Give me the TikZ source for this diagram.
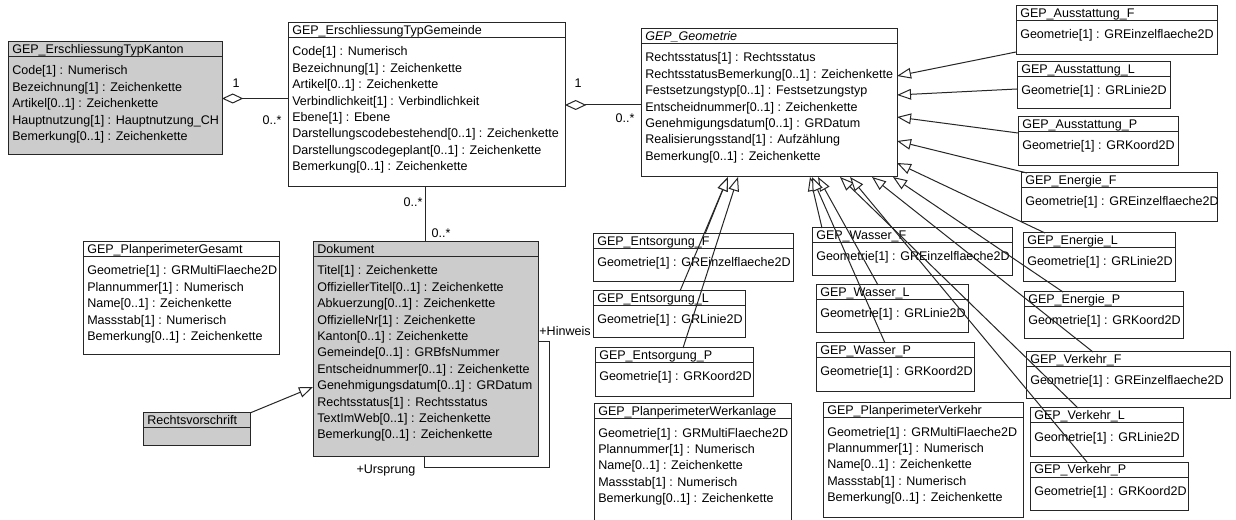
\documentclass[tikz,border=0pt]{standalone}
\usepackage{fontspec}
\setmainfont{Liberation Sans}
\usetikzlibrary{arrows.meta}

% class box: [fill]{name}{x,y}{width}{height}{title}{attributes}
\newcommand{\umlclass}[7][white]{%
  \node[classbox, fill=#1, minimum width=#4*0.75pt, minimum height=#5*0.75pt] (#2) at (#3) {};
  \draw[classline] ([shift={(0,15)}]#2.north west) -- ([shift={(0,15)}]#2.north east);
  \node[classtext] at ([shift={(4,12)}]#2.north west) {#6};
  \foreach \a [count=\i] in {#7}
    \node[classtext] at ([shift={(4,{16.4*\i+16.6})}]#2.north west) {\a};
}

\begin{document}
\begin{tikzpicture}[x=0.75pt, y=-0.75pt,
    classbox/.style={draw=black!85, line width=0.75pt, anchor=north west, inner sep=0pt, outer sep=0pt},
    classline/.style={draw=black!85, line width=0.75pt},
    classtext/.style={anchor=base west, inner sep=0pt, font=\fontsize{9.4}{11}\selectfont},
    conn/.style={draw=black!85, line width=0.75pt},
    gen/.style={conn, -{Triangle[fill=white, length=10.5pt, width=8pt]}},
    aggr/.style={conn, {Diamond[fill=white, length=16pt, width=7.5pt]}-},
    mult/.style={inner sep=0pt, font=\fontsize{9.4}{11}\selectfont}
  ]
  \fill[white] (0,0) rectangle (1236,520);
  \useasboundingbox (0,0) rectangle (1236,520);

  % Erschliessung types
  \umlclass[gray!40]{kanton}{8,42}{214}{113}{GEP\_ErschliessungTypKanton}{
    Code[1] : Numerisch, Bezeichnung[1] : Zeichenkette, Artikel[0..1] : Zeichenkette,
    Hauptnutzung[1] : Hauptnutzung\_CH, Bemerkung[0..1] : Zeichenkette}
  \umlclass{gemeinde}{288,23}{277}{164}{GEP\_ErschliessungTypGemeinde}{
    Code[1] : Numerisch, Bezeichnung[1] : Zeichenkette, Artikel[0..1] : Zeichenkette,
    Verbindlichkeit[1] : Verbindlichkeit, Ebene[1] : Ebene,
    Darstellungscodebestehend[0..1] : Zeichenkette,
    Darstellungscodegeplant[0..1] : Zeichenkette, Bemerkung[0..1] : Zeichenkette}

  % abstract geometry class
  \umlclass{geometrie}{641,29}{256}{148}{\itshape GEP\_Geometrie}{
    Rechtsstatus[1] : Rechtsstatus, RechtsstatusBemerkung[0..1] : Zeichenkette,
    Festsetzungstyp[0..1] : Festsetzungstyp, Entscheidnummer[0..1] : Zeichenkette,
    Genehmigungsdatum[0..1] : GRDatum, Realisierungsstand[1] : Aufzählung,
    Bemerkung[0..1] : Zeichenkette}

  % documents
  \umlclass{ppGesamt}{83,242}{196}{113}{GEP\_PlanperimeterGesamt}{
    Geometrie[1] : GRMultiFlaeche2D, Plannummer[1] : Numerisch, Name[0..1] : Zeichenkette,
    Massstab[1] : Numerisch, Bemerkung[0..1] : Zeichenkette}
  \umlclass[gray!40]{dokument}{313,242}{225}{214}{Dokument}{
    Titel[1] : Zeichenkette, OffiziellerTitel[0..1] : Zeichenkette,
    Abkuerzung[0..1] : Zeichenkette, OffizielleNr[1] : Zeichenkette,
    Kanton[0..1] : Zeichenkette, Gemeinde[0..1] : GRBfsNummer,
    Entscheidnummer[0..1] : Zeichenkette, Genehmigungsdatum[0..1] : GRDatum,
    Rechtsstatus[1] : Rechtsstatus, TextImWeb[0..1] : Zeichenkette,
    Bemerkung[0..1] : Zeichenkette}
  \umlclass[gray!40]{rechts}{143,413}{107}{32}{Rechtsvorschrift}{}

  % Ausstattung, Energie, Verkehr
  \umlclass{ausstF}{1016,6}{201}{49}{GEP\_Ausstattung\_F}{Geometrie[1] : GREinzelflaeche2D}
  \umlclass{ausstL}{1017,62}{153}{47}{GEP\_Ausstattung\_L}{Geometrie[1] : GRLinie2D}
  \umlclass{ausstP}{1018,117}{160}{49}{GEP\_Ausstattung\_P}{Geometrie[1] : GRKoord2D}
  \umlclass{energF}{1021,173}{196}{49}{GEP\_Energie\_F}{Geometrie[1] : GREinzelflaeche2D}
  \umlclass{energL}{1023,233}{152}{49}{GEP\_Energie\_L}{Geometrie[1] : GRLinie2D}
  \umlclass{energP}{1024,292}{159}{47}{GEP\_Energie\_P}{Geometrie[1] : GRKoord2D}
  \umlclass{verkF}{1026,352}{204}{47}{GEP\_Verkehr\_F}{Geometrie[1] : GREinzelflaeche2D}
  \umlclass{verkL}{1030,408}{153}{48}{GEP\_Verkehr\_L}{Geometrie[1] : GRLinie2D}
  \umlclass{verkP}{1030,462}{158}{48}{GEP\_Verkehr\_P}{Geometrie[1] : GRKoord2D}

  % Entsorgung, Wasser
  \umlclass{entsF}{593,234}{200}{48}{GEP\_Entsorgung\_F}{Geometrie[1] : GREinzelflaeche2D}
  \umlclass{entsL}{593,291}{152}{47}{GEP\_Entsorgung\_L}{Geometrie[1] : GRLinie2D}
  \umlclass{entsP}{595,348}{158}{49}{GEP\_Entsorgung\_P}{Geometrie[1] : GRKoord2D}
  \umlclass{wasF}{812,228}{200}{48}{GEP\_Wasser\_F}{Geometrie[1] : GREinzelflaeche2D}
  \umlclass{wasL}{816,285}{152}{48}{GEP\_Wasser\_L}{Geometrie[1] : GRLinie2D}
  \umlclass{wasP}{816,343}{158}{49}{GEP\_Wasser\_P}{Geometrie[1] : GRKoord2D}

  % Planperimeter
  \umlclass{ppWerk}{594,404}{197}{130}{GEP\_PlanperimeterWerkanlage}{
    Geometrie[1] : GRMultiFlaeche2D, Plannummer[1] : Numerisch, Name[0..1] : Zeichenkette,
    Massstab[1] : Numerisch, Bemerkung[0..1] : Zeichenkette}
  \umlclass{ppVerk}{823,403}{200}{114}{GEP\_PlanperimeterVerkehr}{
    Geometrie[1] : GRMultiFlaeche2D, Plannummer[1] : Numerisch, Name[0..1] : Zeichenkette,
    Massstab[1] : Numerisch, Bemerkung[0..1] : Zeichenkette}

  % aggregations
  \draw[aggr] (kanton.east) -- (kanton.east -| gemeinde.west);
  \node[mult] (mK1) at (236,83) {1};
  \node[mult] (mK2) at (272,120) {0..*};
  \draw[aggr] (gemeinde.east) -- (gemeinde.east -| geometrie.west);
  \node[mult] (mG1) at (578,83) {1};
  \node[mult] (mG2) at (625,118) {0..*};

  % Gemeinde -- Dokument
  \draw[conn] (gemeinde.south -| dokument.north) -- (dokument.north);
  \node[mult] (mD1) at (413,202) {0..*};
  \node[mult] (mD2) at (441,233) {0..*};

  % Dokument self reference
  \coordinate (hinweis) at (549,342);
  \coordinate (ursprung) at (424,467);
  \draw[conn] (dokument.east |- hinweis) -- (hinweis) |- (ursprung) -- (ursprung |- dokument.south);
  \node[mult] (rH) at (565,331) {+Hinweis};
  \node[mult] (rU) at (386,470) {+Ursprung};

  % generalizations
  \draw[gen] (rechts.north east) -- ([shift={(0,38)}]dokument.west);
  \foreach \sub/\sx/\sy/\tx/\ty in {
      ausstF/0/46/256/47, ausstL/0/27/256/66, ausstP/0/16/256/88,
      energF/6/0/256/112, energL/22/0/256/134, energP/39/0/252/148,
      verkF/67/0/231/148, verkL/48/0/199/148, verkP/57/0/209/148,
      wasF/10/0/169/148, wasL/62/0/177/148, wasP/69/0/171/148,
      entsF/112/0/87/148, entsL/87/0/87/148, entsP/88/0/97/148}
    \draw[gen] ([shift={(\sx,\sy)}]\sub.north west) -- ([shift={(\tx,\ty)}]geometrie.north west);
\end{tikzpicture}
\end{document}
